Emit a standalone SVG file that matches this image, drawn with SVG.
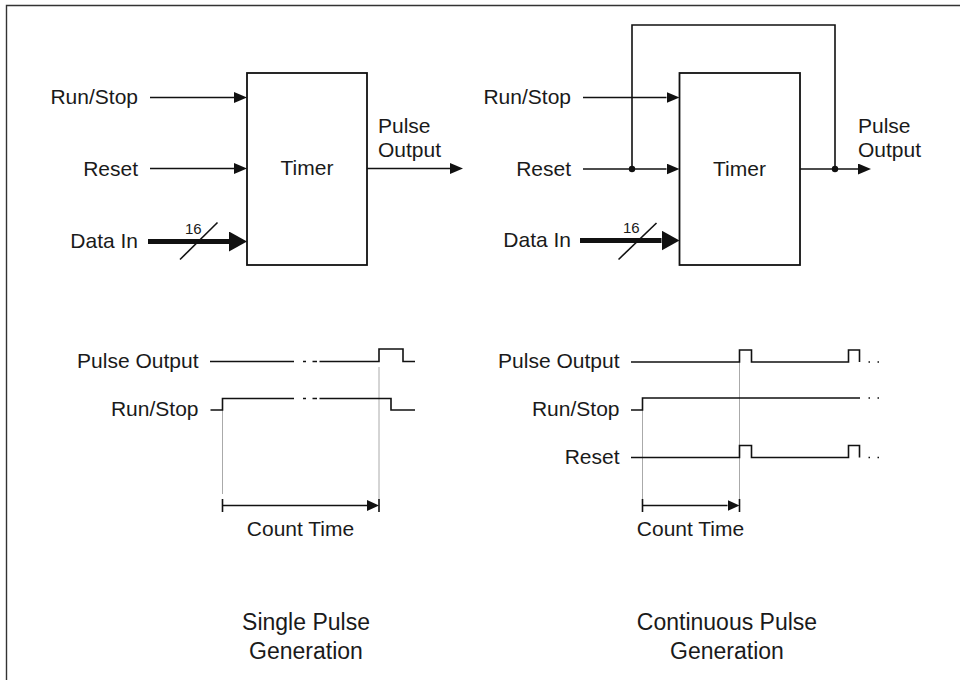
<svg xmlns="http://www.w3.org/2000/svg" width="960" height="680" viewBox="0 0 960 680">
<style>
  text { font-family: "Liberation Sans", Arial, sans-serif; fill: #1a1a1a; }
  .lbl { font-size: 21px; }
  .end { text-anchor: end; }
  .mid { text-anchor: middle; }
  .small { font-size: 15px; }
  .title { font-size: 23px; text-anchor: middle; }
  .box { fill: #fff; stroke: #111; stroke-width: 1.8; }
  .wire { fill: none; stroke: #111; stroke-width: 1.6; }
  .bus { fill: none; stroke: #111; stroke-width: 5; }
  .wave { fill: none; stroke: #111; stroke-width: 1.6; }
  .guide { fill: none; stroke: #aaa; stroke-width: 1; }
  .dot { fill: #111; }
  .frame { fill: none; stroke: #333; stroke-width: 1.4; }
</style>
<defs>
  <marker id="arr" markerUnits="userSpaceOnUse" markerWidth="13" markerHeight="11" refX="0" refY="5.5" orient="auto">
    <path d="M0,0 L13,5.5 L0,11 z" fill="#111"/>
  </marker>
  <marker id="arrBus" markerUnits="userSpaceOnUse" markerWidth="18" markerHeight="20" refX="0" refY="10" orient="auto">
    <path d="M0,0 L18,10 L0,20 z" fill="#111"/>
  </marker>
  <marker id="arrSm" markerUnits="userSpaceOnUse" markerWidth="12" markerHeight="11" refX="0" refY="5.5" orient="auto">
    <path d="M0,0 L12,5.5 L0,11 z" fill="#111"/>
  </marker>
</defs>
<rect width="960" height="680" fill="#fff"/>
<path class="frame" d="M6.5,680 V5.5 H960"/>

<!-- Single pulse block -->
<g id="timer-single">
  <rect class="box" x="247" y="73" width="120" height="192"/>
  <text class="lbl mid" x="307" y="175">Timer</text>
</g>
<g id="labels-single-inputs">
  <text class="lbl end" x="138" y="104">Run/Stop</text>
  <text class="lbl end" x="138" y="175.5">Reset</text>
  <text class="lbl end" x="138" y="248">Data In</text>
  <text class="small" x="185" y="234">16</text>
  <text class="lbl" x="378" y="133">Pulse</text>
  <text class="lbl" x="378" y="157">Output</text>
</g>

<!-- Continuous pulse block -->
<g id="timer-continuous">
  <rect class="box" x="679.5" y="73" width="120.5" height="192"/>
  <text class="lbl mid" x="739.5" y="175.5">Timer</text>
</g>
<g id="labels-continuous-inputs">
  <text class="lbl end" x="571" y="104">Run/Stop</text>
  <text class="lbl end" x="571" y="176">Reset</text>
  <text class="lbl end" x="571" y="247">Data In</text>
  <text class="small" x="623" y="233">16</text>
  <text class="lbl" x="858" y="133">Pulse</text>
  <text class="lbl" x="858" y="157">Output</text>
</g>

<g id="connectors">
  <!-- single -->
  <line class="wire" x1="150" y1="97.5" x2="234" y2="97.5" marker-end="url(#arr)"/>
  <line class="wire" x1="150" y1="168.5" x2="234" y2="168.5" marker-end="url(#arr)"/>
  <line class="bus" x1="148" y1="241.5" x2="229" y2="241.5" marker-end="url(#arrBus)"/>
  <line class="wire" x1="180" y1="259.5" x2="217.5" y2="222.5"/>
  <line class="wire" x1="367" y1="168.5" x2="450" y2="168.5" marker-end="url(#arr)"/>
  <!-- continuous -->
  <line class="wire" x1="583" y1="97.5" x2="666.5" y2="97.5" marker-end="url(#arr)"/>
  <line class="wire" x1="583" y1="169" x2="666.5" y2="169" marker-end="url(#arr)"/>
  <line class="bus" x1="580" y1="240.5" x2="661.5" y2="240.5" marker-end="url(#arrBus)"/>
  <line class="wire" x1="618.5" y1="259.5" x2="656.5" y2="223"/>
  <line class="wire" x1="800" y1="169" x2="858" y2="169" marker-end="url(#arr)"/>
  <path class="wire" d="M632,169 V25 H835 V169"/>
  <circle class="dot" cx="632" cy="169" r="3.2"/>
  <circle class="dot" cx="835" cy="169" r="3.2"/>
</g>

<!-- Single pulse timing -->
<g id="timing-single">
  <text class="lbl end" x="198.5" y="368">Pulse Output</text>
  <text class="lbl end" x="198.5" y="416">Run/Stop</text>
  <path class="guide" d="M222.5,410 V494 M379,367 V500"/>
  <path class="wave" d="M210,361.5 H294 M303,361.5 H306 M312.5,361.5 H317 M319.5,361.5 H379 V349 H403 V361.5 H415"/>
  <path class="wave" d="M210.5,410 H222.5 V398.5 H294 M303,398.5 H306 M312.5,398.5 H317 M319.5,398.5 H391 V410 H415"/>
  <path class="wire" d="M222.5,499 V512 M379,499 V512"/>
  <line class="wire" x1="222.5" y1="505.5" x2="367" y2="505.5" marker-end="url(#arrSm)"/>
  <text class="lbl mid" x="300.5" y="535.5">Count Time</text>
</g>

<!-- Continuous pulse timing -->
<g id="timing-continuous">
  <text class="lbl end" x="619.5" y="368">Pulse Output</text>
  <text class="lbl end" x="619.5" y="416">Run/Stop</text>
  <text class="lbl end" x="619.5" y="463.5">Reset</text>
  <path class="guide" d="M642.5,410 V500 M739.5,362 V500"/>
  <path class="wave" d="M631,362 H739.5 V350 H751.5 V362 H848.5 V350 H859.5 V362"/>
  <path class="wave" d="M631,410 H642.5 V398 H860"/>
  <path class="wave" d="M631,457.5 H739.5 V445.5 H751.5 V457.5 H848.5 V445.5 H859.5 V457.5"/>
  <path class="wave" d="M868.5,362 H870 M877.5,362 H879 M868.5,398 H870 M877.5,398 H879 M868.5,457.5 H870 M877.5,457.5 H879"/>
  <path class="wire" d="M642.5,499 V512 M739.5,499 V512"/>
  <line class="wire" x1="642.5" y1="505.5" x2="727.5" y2="505.5" marker-end="url(#arrSm)"/>
  <text class="lbl mid" x="690.5" y="535.5">Count Time</text>
</g>

<g id="captions">
  <text class="title" x="306" y="629.5">Single Pulse</text>
  <text class="title" x="306" y="658.5">Generation</text>
  <text class="title" x="727" y="630">Continuous Pulse</text>
  <text class="title" x="727" y="658.5">Generation</text>
</g>
</svg>
